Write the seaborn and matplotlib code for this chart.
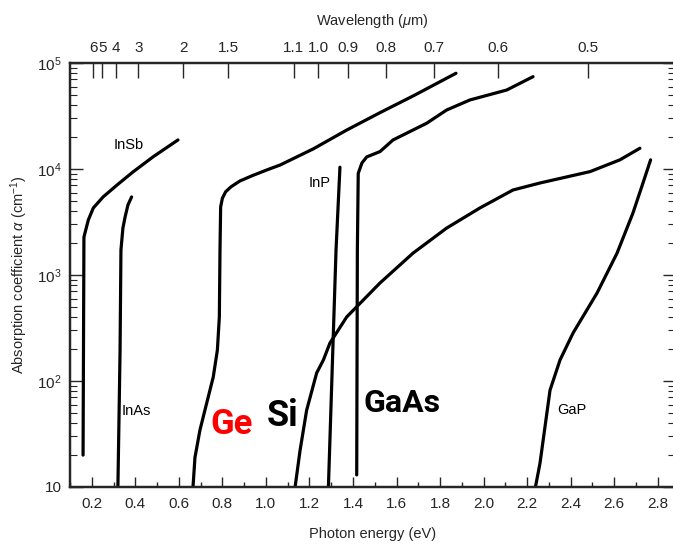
import numpy as np
import pandas as pd
import matplotlib
matplotlib.use("Agg")
import matplotlib.pyplot as plt
import seaborn as sns

# ---- data (photon energy in eV, absorption coefficient in cm^-1) ----
insb_E = [0.160, 0.164, 0.184, 0.207, 0.252, 0.316, 0.389, 0.481, 0.596]
insb_a = [20, 2280, 3300, 4290, 5450, 7060, 9370, 13000, 18800]

inas_E = [0.320, 0.325, 0.330, 0.334, 0.343, 0.353, 0.366, 0.383]
inas_a = [10, 43, 196, 1720, 2770, 3520, 4570, 5450]

ge_E = [0.665, 0.674, 0.697, 0.728, 0.758, 0.777, 0.786, 0.789, 0.792, 0.800,
        0.815, 0.840, 0.880, 0.940, 1.010, 1.065, 1.218, 1.371, 1.524, 1.677,
        1.873]
ge_a = [10, 19, 34.5, 62, 109, 196, 402, 1720, 4390, 5300,
        6100, 6800, 7700, 8700, 9900, 10900, 15500, 23300, 34000, 49000,
        80000]

si_E = [1.134, 1.157, 1.187, 1.233, 1.264, 1.294, 1.371, 1.524, 1.676, 1.830,
        1.983, 2.135, 2.259, 2.489, 2.626, 2.718]
si_a = [10, 22.3, 53, 119, 158, 228, 402, 841, 1610, 2770,
        4290, 6340, 7380, 9450, 12200, 15700]

inp_E = [1.287, 1.322, 1.340]
inp_a = [10, 1720, 10400]

gaas_E = [1.417, 1.420, 1.424, 1.441, 1.463, 1.524, 1.584, 1.738, 1.830, 1.937,
          2.106, 2.227]
gaas_a = [13, 1720, 9100, 11400, 13000, 14600, 18800, 27000, 36000, 44800,
          55600, 74300]

gap_E = [2.238, 2.259, 2.305, 2.351, 2.411, 2.521, 2.613, 2.686, 2.732, 2.767]
gap_a = [10, 16.8, 82, 158, 284, 676, 1610, 3850, 7380, 12200]

materials = ["InSb", "InAs", "Ge", "Si", "InP", "GaAs", "GaP"]
energies = [insb_E, inas_E, ge_E, si_E, inp_E, gaas_E, gap_E]
alphas = [insb_a, inas_a, ge_a, si_a, inp_a, gaas_a, gap_a]

# curve labels: (text, E, alpha)
small_labels = [("InSb", 0.371, 16800), ("InAs", 0.403, 52),
                ("InP", 1.248, 7380), ("GaP", 2.405, 53)]
big_labels = [("Ge", 0.840, 39, "#ff0000", 25),
              ("Si", 1.078, 46.8, "black", 26),
              ("GaAs", 1.625, 62, "black", 23)]

x_ticks = [0.2, 0.4, 0.6, 0.8, 1.0, 1.2, 1.4, 1.6, 1.8, 2.0, 2.2, 2.4, 2.6, 2.8]
x_ticklabels = ["0.2", "0.4", "0.6", "0.8", "1.0", "1.2", "1.4", "1.6", "1.8",
                "2.0", "2.2", "2.4", "2.6", "2.8"]
y_ticks = [10, 1e2, 1e3, 1e4, 1e5]
y_ticklabels = ["10", "$10^2$", "$10^3$", "$10^4$", "$10^5$"]
wl_ticks = [6, 5, 4, 3, 2, 1.5, 1.1, 1.0, 0.9, 0.8, 0.7, 0.6, 0.5]
wl_ticklabels = ["6", "5", "4", "3", "2", "1.5", "1.1", "1.0", "0.9", "0.8",
                 "0.7", "0.6", "0.5"]

rows = []
for m, es, as_ in zip(materials, energies, alphas):
    for i, (e, a) in enumerate(zip(es, as_)):
        rows.append({"material": m, "E": e, "alpha": a, "order": i})
df = pd.DataFrame(rows)

# ---- style ----
sns.set_style("ticks")
FONT = ["Liberation Sans", "DejaVu Sans"]
plt.rcParams["font.family"] = FONT
plt.rcParams["mathtext.fontset"] = "custom"
plt.rcParams["mathtext.rm"] = "Liberation Sans"
plt.rcParams["mathtext.it"] = "Liberation Sans:italic"
plt.rcParams["font.size"] = 11

fig = plt.figure(figsize=(6.73, 5.46), dpi=100)
ax = fig.add_axes([70 / 673, 1 - 487 / 546, 605 / 673, 424 / 546])

sns.lineplot(data=df, x="E", y="alpha", units="material", estimator=None,
             sort=False, color="black", linewidth=2.3, ax=ax, legend=False)

ax.set_yscale("log")
ax.set_xlim(0.1, 0.1 + 605 / 217.7)
ax.set_ylim(10, 1e5)

ax.set_xticks(x_ticks)
ax.set_xticklabels(x_ticklabels)
ax.set_xticks(np.arange(0.1, 2.9, 0.1), minor=True)
ax.set_yticks(y_ticks)
ax.set_yticklabels(y_ticklabels)

ax.tick_params(axis="x", which="major", direction="in", length=7.5, width=1.0,
               labelsize=11, pad=7, bottom=True, top=False)
ax.tick_params(axis="x", which="minor", direction="in", length=3.5, width=1.0,
               bottom=True, top=False)
ax.tick_params(axis="y", which="major", direction="in", length=9, width=1.0,
               labelsize=11, left=True, right=True, pad=6)
ax.tick_params(axis="y", which="minor", direction="in", length=5, width=0.8,
               left=True, right=True)

for s in ax.spines.values():
    s.set_linewidth(1.6)
    s.set_color("black")

ax.set_xlabel("Photon energy (eV)", fontsize=10.5, labelpad=12)
ax.set_ylabel("Absorption coefficient $\\mathit{\\alpha}$ (cm$^{-1}$)",
              fontsize=10.5, labelpad=5)

# top wavelength axis
ax2 = ax.twiny()
ax2.set_xlim(ax.get_xlim())
ax2.set_xticks([1.24 / w for w in wl_ticks])
ax2.set_xticklabels(wl_ticklabels)
ax2.tick_params(axis="x", which="major", direction="in", length=11, width=1.0,
                labelsize=11, pad=6)
ax2.tick_params(axis="x", which="minor", top=False, bottom=False)
ax2.set_xlabel("Wavelength ($\\mu$m)", fontsize=10.5, labelpad=11)
for s in ax2.spines.values():
    s.set_linewidth(1.6)

for txt, e, a in small_labels:
    ax.text(e, a, txt, fontsize=10.5, ha="center", va="center", color="black")
for txt, e, a, c, fs in big_labels:
    ax.text(e, a, txt, fontsize=fs, ha="center", va="center", color=c,
            fontfamily=["Roboto", "DejaVu Sans"], fontweight="bold")

fig.savefig("out.png", dpi=100)
